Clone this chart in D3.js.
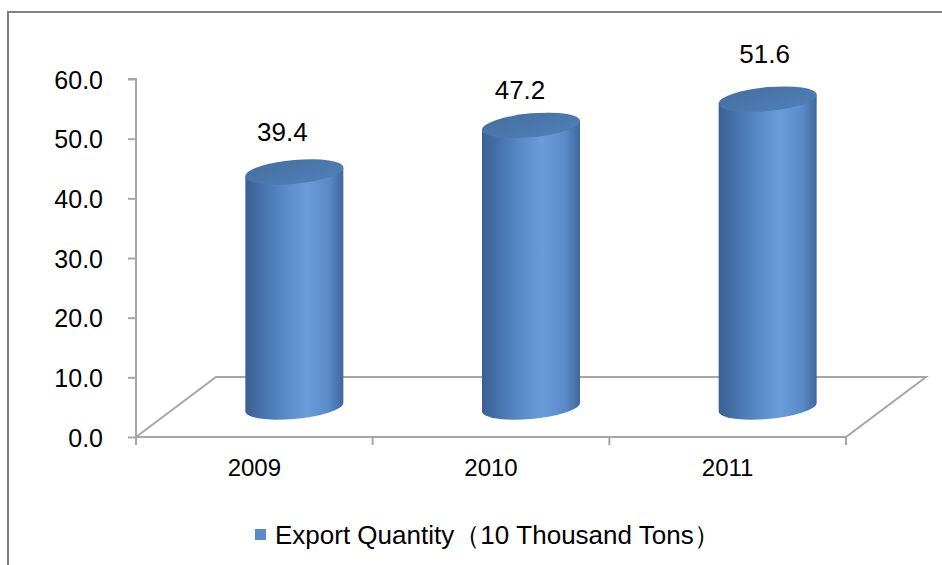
<!DOCTYPE html>
<html><head><meta charset="utf-8">
<script src="https://cdn.jsdelivr.net/npm/d3@7"></script>
<style>body{margin:0;background:#fff;} text{font-family:"Liberation Sans",Arial,sans-serif;fill:#000;}</style>
</head><body><svg id="c" width="942" height="565"></svg>
<script>
const categories = ["2009","2010","2011"];
const values = [39.4, 47.2, 51.6];
const yTicks = [0,10,20,30,40,50,60];
const seriesName = "Export Quantity（10 Thousand Tons）";

const svg = d3.select("#c");
const W = 942, H = 565;
// frame
svg.append("rect").attr("x",8).attr("y",12).attr("width",W+10).attr("height",H+10)
  .attr("fill","none").attr("stroke","#808080").attr("stroke-width",2);

const x0 = 136, x1 = 846, dx = 80, dy = -60;
const y = d3.scaleLinear().domain([0,60]).range([437,79]);
const x = d3.scaleBand().domain(categories).range([x0,x1]);

const defs = svg.append("defs");
const sg = defs.append("linearGradient").attr("id","side").attr("x1","0").attr("x2","1").attr("y1","0").attr("y2","0");
[[0,"#3a6093"],[0.35,"#5486c4"],[0.62,"#6a9cda"],[0.85,"#5a8bc9"],[1,"#40679c"]].forEach(s=>sg.append("stop").attr("offset",s[0]).attr("stop-color",s[1]));
const tg = defs.append("linearGradient").attr("id","top").attr("x1","0").attr("x2","1").attr("y1","0").attr("y2","1");
[[0,"#456f9f"],[1,"#5080ba"]].forEach(s=>tg.append("stop").attr("offset",s[0]).attr("stop-color",s[1]));

const grid = "#a6a6a6";
// floor
const floor = d3.path();
floor.moveTo(x0, y(0)); floor.lineTo(x0+dx, y(0)+dy); floor.lineTo(x1+dx, y(0)+dy); floor.lineTo(x1, y(0)); floor.closePath();
svg.append("path").attr("d", floor.toString()).attr("fill","none").attr("stroke",grid).attr("stroke-width",2);

// y axis
const yAxis = d3.axisLeft(y).tickValues(yTicks).tickSize(8).tickPadding(25).tickFormat(d3.format(".1f"));
const ya = svg.append("g").attr("transform",`translate(${x0},0)`).call(yAxis);
ya.select(".domain").attr("stroke",grid).attr("stroke-width",2).attr("d",`M-8,${y(60)}H0V${y(0)}`);
ya.selectAll(".tick line").attr("stroke",grid).attr("stroke-width",2);
ya.selectAll(".tick text").attr("font-size",25).attr("fill","#000").attr("dy","0.36em")
  .attr("font-family","Liberation Sans, Arial, sans-serif");

// x axis ticks
const xa = svg.append("g");
const xTickPos = categories.map(c=>x(c)).concat([x1]);
xa.selectAll("line").data(xTickPos).join("line")
  .attr("x1",d=>d).attr("x2",d=>d).attr("y1",y(0)).attr("y2",y(0)+8).attr("stroke",grid).attr("stroke-width",2);
xa.selectAll("text").data(categories).join("text")
  .attr("x",d=>x(d)+x.bandwidth()/2).attr("y",476).attr("text-anchor","middle").attr("font-size",24).text(d=>d);

// cylinders
const rx = 49, ry = 12, skew = -5;
const bars = svg.append("g").selectAll("g").data(categories).join("g")
  .attr("transform",(d)=>`translate(${x(d)+x.bandwidth()/2+dx/2},${y(0)+dy/2})`);
bars.each(function(d,i){
  const g = d3.select(this).append("g").attr("transform",`skewY(${skew})`);
  const h = y(0) - y(values[i]);
  const side = `M${-rx},0 L${-rx},${-h} L${rx},${-h} L${rx},0 A${rx},${ry} 0 0 1 ${-rx},0 Z`;
  g.append("path").attr("d",side).attr("fill","url(#side)");
  g.append("ellipse").attr("cx",0).attr("cy",-h).attr("rx",rx).attr("ry",ry).attr("fill","url(#top)");
});

// data labels
const labOff = [-12,-11,-3];
const labDy = [-31,-26,-36];
svg.append("g").selectAll("text").data(categories).join("text")
  .attr("x",(d,i)=>x(d)+x.bandwidth()/2+dx/2+labOff[i])
  .attr("y",(d,i)=>y(values[i])+dy/2+labDy[i])
  .attr("text-anchor","middle").attr("font-size",26).text((d,i)=>values[i].toFixed(1));

// legend
const lg = svg.append("g");
lg.append("rect").attr("x",255).attr("y",529).attr("width",11).attr("height",11).attr("fill","#5a8ccb");
lg.append("text").attr("x",275).attr("y",544).attr("font-size",26).text(seriesName);
</script></body></html>
